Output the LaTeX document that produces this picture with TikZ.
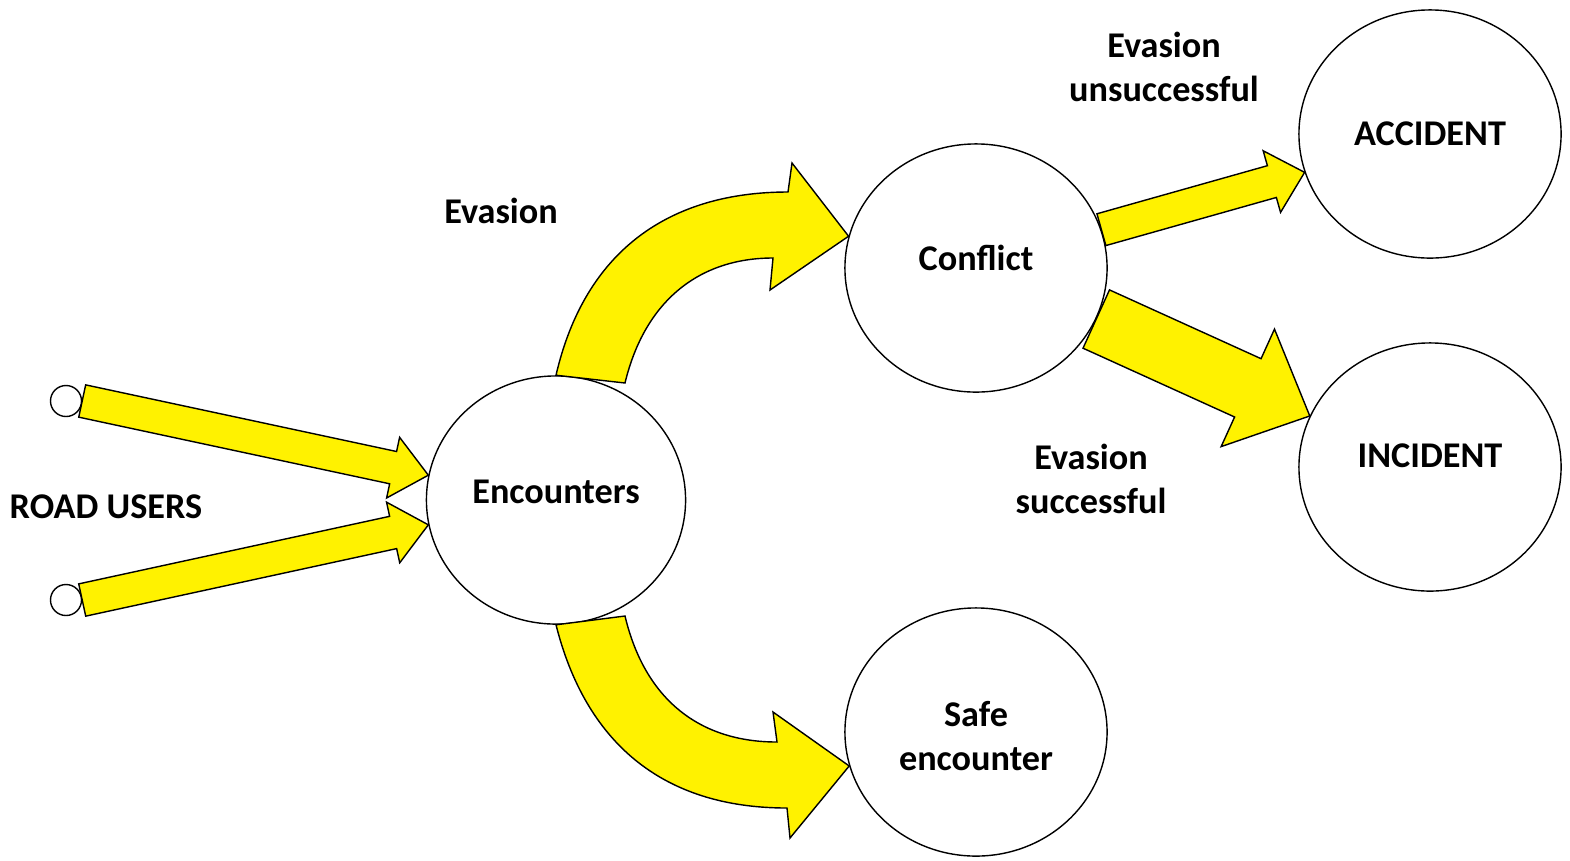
\documentclass[tikz,border=0pt]{standalone}
\usepackage{fontspec}
\setmainfont{Carlito}
\usetikzlibrary{shapes.geometric, calc}

\tikzset{
  stage/.style={ellipse, draw, line width=0.4pt, minimum width=2.62cm, minimum height=2.48cm, inner sep=0pt},
  user/.style={circle, draw, line width=0.4pt, minimum size=0.31cm, inner sep=0pt},
  lbl/.style={font=\bfseries\fontsize{10.3}{12.4}\selectfont, align=center, inner sep=0pt},
  yellowarrow/.style={draw=black, fill=yellow, line width=0.4pt, line join=miter},
}

% block arrow: from, to, half shaft, half head, head length, name of head base
\newcommand{\blockarrow}[6]{%
  \coordinate (#6) at ($(#2)!#5!(#1)$);
  \draw[yellowarrow] ($(#1)!#3!90:(#2)$) -- ($(#6)!#3!90:(#2)$) -- ($(#6)!#4!90:(#2)$) -- (#2)
    -- ($(#6)!#4!-90:(#2)$) -- ($(#6)!#3!-90:(#2)$) -- ($(#1)!#3!-90:(#2)$) -- cycle;
}

\begin{document}
\begin{tikzpicture}[x=0.01cm, y=-0.01cm]
  \useasboundingbox (0,0) rectangle (1570,860);

  % stages
  \node[stage, minimum width=2.59cm, label={[lbl, yshift=0.08cm]center:Encounters}] (enc) at (556,500) {};
  \node[stage, label={[lbl, yshift=0.1cm]center:Conflict}] (con) at (976,268) {};
  \node[stage, label={[lbl]center:ACCIDENT}] (acc) at (1430,134) {};
  \node[stage, label={[lbl, yshift=0.11cm]center:INCIDENT}] (inc) at (1430,467) {};
  \node[stage, label={[lbl, yshift=-0.04cm]center:Safe\\encounter}] (safe) at (976,732) {};

  % road users
  \node[user] (u1) at (66,401) {};
  \node[user] (u2) at (66,600) {};

  % texts
  \node[lbl] (road) at (106,507) {ROAD USERS};
  \node[lbl] (ev) at (501,211) {Evasion};
  \node[lbl] (evu) at (1164,67) {Evasion\\unsuccessful};
  \node[lbl] (evs) at (1091,479) {Evasion\\successful};

  % straight arrows
  \blockarrow{u1.east}{enc.169}{0.165cm}{0.31cm}{0.36cm}{h1}
  \blockarrow{u2.east}{enc.191}{0.165cm}{0.31cm}{0.36cm}{h2}
  \blockarrow{con.17}{acc.197}{0.165cm}{0.32cm}{0.34cm}{h3}
  \blockarrow{con.337}{inc.157}{0.32cm}{0.645cm}{0.68cm}{h4}

  % curved arrows
  \draw[yellowarrow] (enc.north) .. controls (585,250) and (670,192) .. (788,192) -- (792,163) -- (con.166)
    -- (770,290) -- (773,258) .. controls (700,258) and (645,300) .. (625,383) -- cycle;
  \draw[yellowarrow] (enc.south) .. controls (585,740) and (660,808) .. (787,808) -- (790,838) -- (safe.195)
    -- (773,712) -- (777,742) .. controls (700,742) and (645,700) .. (625,616) -- cycle;
\end{tikzpicture}
\end{document}
